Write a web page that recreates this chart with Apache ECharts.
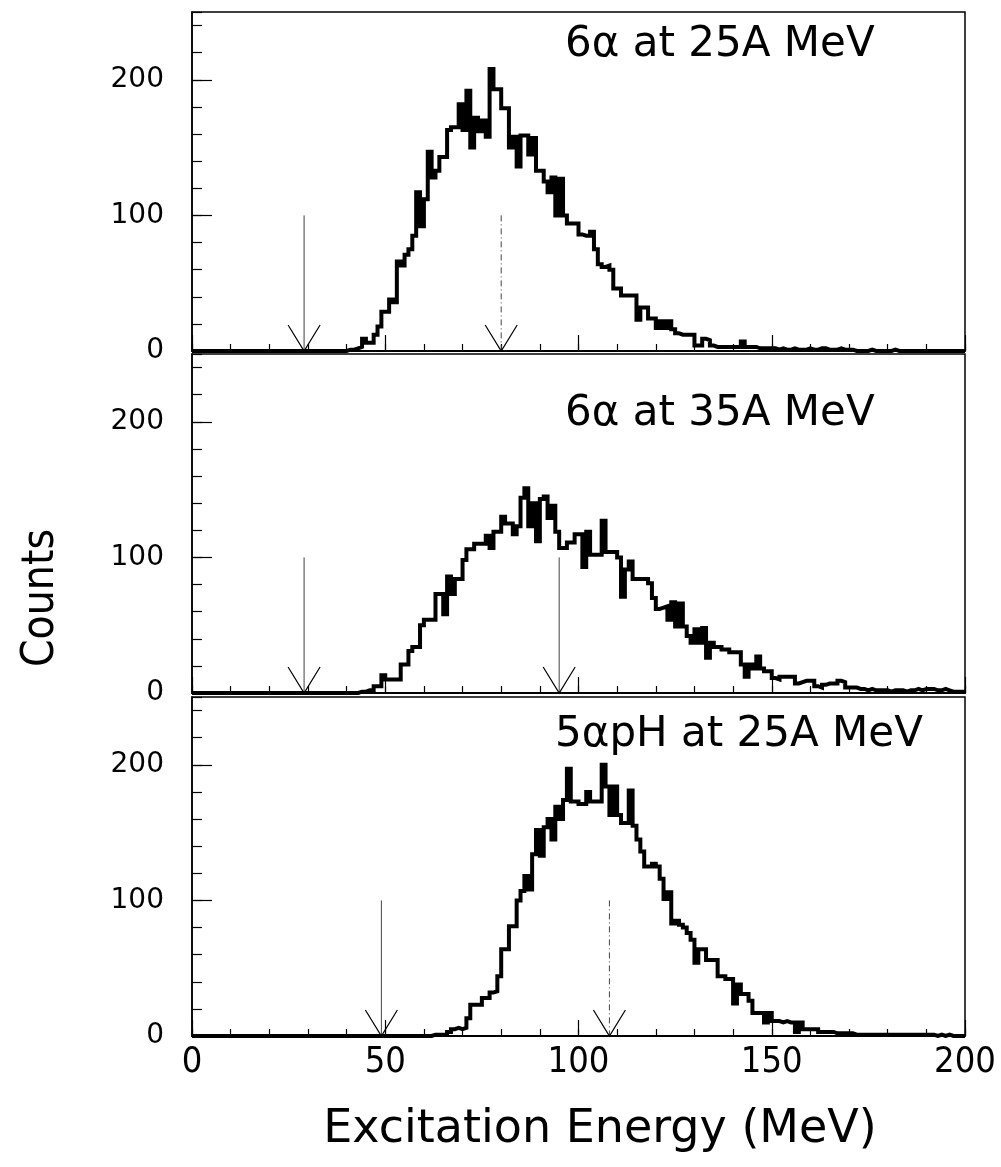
<!DOCTYPE html>
<html><head><meta charset="utf-8">
<script src="https://cdn.jsdelivr.net/npm/echarts@6/dist/echarts.min.js"></script>
<style>html,body{margin:0;padding:0;background:#fff}#c{width:1001px;height:1167px}</style>
</head><body><div id="c"></div>
<script>
// 1 MeV bins, left edges 0..199
const counts6a25 = [
0,0,0,0,0,0,0,0,0,0, 0,0,0,0,0,0,0,0,0,0, 0,0,0,0,0,0,0,0,0,0, 0,0,0,0,0,0,0,0,0,0,
1,1,2,3,9,6,6,12,18,29, 29,38,36,66,63,71,75,85,117,92,
112,147,128,133,143,143,163,165,165,182, 163,192,150,172,162,170,158,208,193,193,
179,179,150,158,136,159,159,145,157,133, 133,125,117,128,100,127,100,94,94,94,
86,85,85,88,75,64,62,63,60,46, 46,41,41,41,41,23,32,32,24,24,
17,22,17,22,16,13,12,12,12,12, 4,4,9,8,4,3,3,3,3,3,
3,3,7,3,3,3,2,2,2,2, 2,1,2,1,1,2,1,1,1,2,
1,1,2,2,1,1,1,2,1,1, 1,0,0,0,0,1,0,0,0,0,
0,1,0,0,0,0,0,0,0,0, 0,0,0,0,0,0,0,0,0,0];
const counts6a35 = [
0,0,0,0,0,0,0,0,0,0, 0,0,0,0,0,0,0,0,0,0, 0,0,0,0,0,0,0,0,0,0, 0,0,0,0,0,0,0,0,0,0,
0,0,0,1,1,2,2,5,5,13, 10,10,10,10,21,21,31,34,34,50,
54,54,54,73,73,58,86,73,84,84, 98,106,106,110,110,110,116,107,119,119,
130,125,125,117,123,144,151,123,140,112, 143,145,129,138,119,107,107,111,111,117,
117,93,119,102,102,102,127,104,104,104, 100,71,91,97,84,84,84,84,81,70,
62,63,64,54,67,49,66,49,42,37, 47,37,48,26,37,34,34,32,32,30,
30,30,21,12,21,18,27,18,16,16, 11,10,12,12,12,12,7,8,9,9,
9,5,4,6,7,7,7,9,8,4, 4,4,3,3,2,3,2,2,2,2,
1,2,2,2,1,2,2,3,2,3, 3,3,2,2,3,2,1,1,1,1];
const counts5apH25 = [
0,0,0,0,0,0,0,0,0,0, 0,0,0,0,0,0,0,0,0,0, 0,0,0,0,0,0,0,0,0,0, 0,0,0,0,0,0,0,0,0,0,
0,0,0,0,0,0,0,0,0,0, 0,0,0,0,0,0,0,0,0,0,
0,0,1,1,1,1,3,5,6,5, 6,13,23,23,23,28,28,32,33,44,
64,64,81,81,100,107,118,108,134,152, 133,154,160,145,169,160,174,197,173,173,
171,171,180,173,173,173,200,184,163,184, 163,157,157,181,155,145,136,125,125,127,
125,116,101,106,83,85,82,80,76,71, 54,64,64,56,56,56,44,44,42,42,
24,38,31,31,26,17,17,17,10,17, 11,11,10,11,10,10,3,10,5,5,
5,5,3,3,3,3,2,2,2,2, 2,1,1,1,1,1,1,1,1,1,
1,1,1,1,1,1,1,1,1,1, 1,1,0,1,0,1,0,0,0,0];

const panelCounts = [counts6a25, counts6a35, counts5apH25];
const panelLabels = ['6α at 25A MeV', '6α at 35A MeV', '5αpH at 25A MeV'];
const arrowPositions = [[29, 80], [29, 95], [49, 108]];
const arrowTop = 100;
const xMin = 0, xMax = 200, yMin = 0, yMax = 250;

const FONT = "'DejaVu Sans', sans-serif";
const NARROW = "'Liberation Sans Narrow', 'DejaVu Sans Condensed', 'DejaVu Sans', sans-serif";
const gridTops = [12, 354, 697];
const gridH = 339;
const arrowDash = [[null, [6, 3, 1, 3]], [null, null], [null, [6, 3, 1, 3]]];

const grids = [], xAxes = [], yAxes = [], series = [];
gridTops.forEach((t, g) => {
  grids.push({left: 192, width: 773, top: t, height: gridH, show: true,
    borderColor: '#000', borderWidth: 1.5, backgroundColor: 'transparent', outerBoundsMode: 'none'});
  xAxes.push({gridIndex: g, position: 'bottom', offset: 0, type: 'value', min: xMin, max: xMax, interval: 10,
    axisLine: {show: true, onZero: false, lineStyle: {color: '#000', width: 2}},
    axisTick: {show: true, inside: true, length: 7, lineStyle: {color: '#000', width: 1.2}},
    axisLabel: {show: false}, splitLine: {show: false}});
  xAxes.push({gridIndex: g, position: 'bottom', offset: 0, type: 'value', min: xMin, max: xMax, interval: 50,
    axisLine: {show: false, onZero: false},
    axisTick: {show: true, inside: true, length: 16, lineStyle: {color: '#000', width: 1.2}},
    axisLabel: {show: g === 2, margin: 9, color: '#000', fontSize: 36, fontFamily: NARROW},
    splitLine: {show: false}});
  yAxes.push({gridIndex: g, position: 'left', offset: 0, type: 'value', min: yMin, max: yMax, interval: 20,
    axisLine: {show: true, onZero: false, lineStyle: {color: '#000', width: 1.5}},
    axisTick: {show: true, inside: true, length: 10, lineStyle: {color: '#000', width: 1.2}},
    axisLabel: {show: false}, splitLine: {show: false}});
  yAxes.push({gridIndex: g, position: 'left', offset: 0, type: 'value', min: yMin, max: yMax, interval: 100,
    axisLine: {show: false, onZero: false},
    axisTick: {show: true, inside: true, length: 20, lineStyle: {color: '#000', width: 1.2}},
    axisLabel: {show: true, showMaxLabel: false, margin: 28, color: '#000', fontSize: 28, fontFamily: FONT},
    splitLine: {show: false}});

  const counts = panelCounts[g];
  const pts = counts.map((v, i) => [xMin + i, v]);
  pts.push([xMin + counts.length, counts[counts.length - 1]]);
  series.push({type: 'line', xAxisIndex: g * 2, yAxisIndex: g * 2, step: 'end', data: pts,
    symbol: 'none', showSymbol: false, clip: true, z: 3,
    lineStyle: {color: '#000', width: 4, join: 'miter', cap: 'butt'}});

  series.push({type: 'custom', xAxisIndex: g * 2, yAxisIndex: g * 2, coordinateSystem: 'cartesian2d',
    data: arrowPositions[g].map(x => [x, arrowTop]), silent: true, z: 2,
    renderItem: (params, api) => {
      const x = api.value(0), top = api.value(1);
      const p0 = api.coord([x, 0]), p1 = api.coord([x, top]);
      const dash = arrowDash[g][params.dataIndex];
      return {type: 'group', children: [
        {type: 'line', shape: {x1: p1[0], y1: p1[1], x2: p0[0], y2: p0[1]},
          style: {stroke: '#444', lineWidth: 1, lineDash: dash}},
        {type: 'polyline', shape: {points: [[p0[0] - 16, p0[1] - 26], [p0[0], p0[1]], [p0[0] + 16, p0[1] - 26]]},
          style: {stroke: '#000', lineWidth: 1.2, fill: null}}
      ]};
    }});
});

const labelPos = [[565, 45], [565, 414], [555, 735]];
const graphics = panelLabels.map((t, i) => ({type: 'text', x: labelPos[i][0], y: labelPos[i][1], z: 10,
  style: {text: t, font: "42px " + FONT, fill: '#000', align: 'left', verticalAlign: 'middle'}}));
graphics.push({type: 'text', x: 42, y: 598, rotation: Math.PI / 2, z: 10,
  style: {text: 'Counts', font: "44px " + NARROW, fill: '#000', align: 'center', verticalAlign: 'middle'}});
graphics.push({type: 'text', x: 600, y: 1130, z: 10,
  style: {text: 'Excitation Energy (MeV)', font: "46px " + FONT, fill: '#000', align: 'center', verticalAlign: 'middle'}});

const chart = echarts.init(document.getElementById('c'), null, {renderer: 'canvas'});
chart.setOption({animation: false, backgroundColor: '#fff', grid: grids, xAxis: xAxes, yAxis: yAxes,
  series: series, graphic: graphics});
</script></body></html>
